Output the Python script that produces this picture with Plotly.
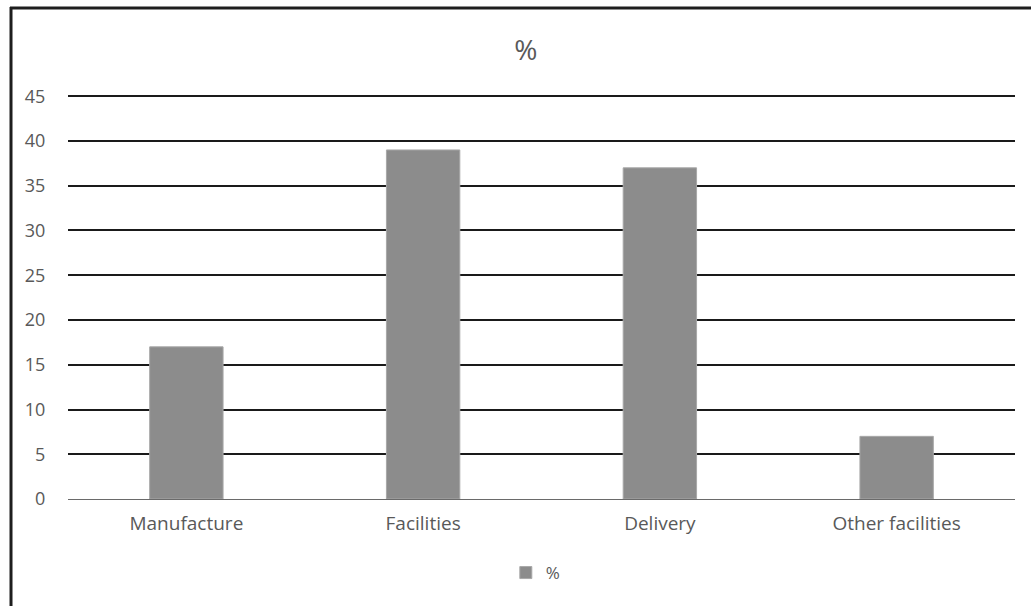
import plotly.graph_objects as go

categories = ["Manufacture", "Facilities", "Delivery", "Other facilities"]
values = [17, 39, 37, 7]
series_name = "%"
y_ticks = [0, 5, 10, 15, 20, 25, 30, 35, 40, 45]

W, H = 1031, 606
font_family = "Open Sans, Liberation Sans, sans-serif"
top_px, bottom_px = 94, 499
plot_h = bottom_px - top_px

fig = go.Figure()
fig.add_trace(go.Bar(
    x=categories,
    y=values,
    name=series_name,
    width=0.31,
    marker=dict(color="#8c8c8c", line=dict(color="#a8a8a8", width=1)),
    showlegend=True,
))

fig.update_layout(
    width=W,
    height=H,
    margin=dict(l=68, r=16, t=top_px, b=H - bottom_px),
    paper_bgcolor="white",
    plot_bgcolor="white",
    font=dict(family=font_family, size=18, color="#595959"),
    title=dict(
        text=series_name,
        x=0.51,
        xanchor="center",
        y=1 - 50 / H,
        yanchor="middle",
        font=dict(size=28, color="#595959", family=font_family),
    ),
    legend=dict(
        orientation="h",
        x=0.494,
        xanchor="center",
        y=-(573 - bottom_px) / plot_h,
        yanchor="middle",
        font=dict(size=17, color="#595959"),
    ),
    xaxis=dict(
        showgrid=False,
        showline=False,
        ticks="outside",
        ticklen=7,
        tickcolor="white",
        tickfont=dict(size=19, color="#595959"),
    ),
    yaxis=dict(
        range=[0, 45.25],
        tickvals=y_ticks,
        showgrid=True,
        gridcolor="#1a1a1a",
        gridwidth=1.5,
        zeroline=True,
        zerolinecolor="#6a6a6a",
        zerolinewidth=1,
        showline=False,
        ticks="outside",
        ticklen=18,
        tickcolor="white",
        tickfont=dict(size=18, color="#595959"),
    ),
    shapes=[
        # frame lines along the top and left edges
        dict(type="line", xref="paper", yref="paper",
             x0=-58 / (W - 84), x1=(W - 68) / (W - 84) + 0.01,
             y0=1 + (top_px - 8) / plot_h, y1=1 + (top_px - 8) / plot_h,
             line=dict(color="#1e1e1e", width=3)),
        dict(type="line", xref="paper", yref="paper",
             x0=-57 / (W - 84), x1=-57 / (W - 84),
             y0=1 + (top_px - 7) / plot_h, y1=-(H - bottom_px) / plot_h - 0.01,
             line=dict(color="#1e1e1e", width=3)),
    ],
)

fig.write_html("out.html")
